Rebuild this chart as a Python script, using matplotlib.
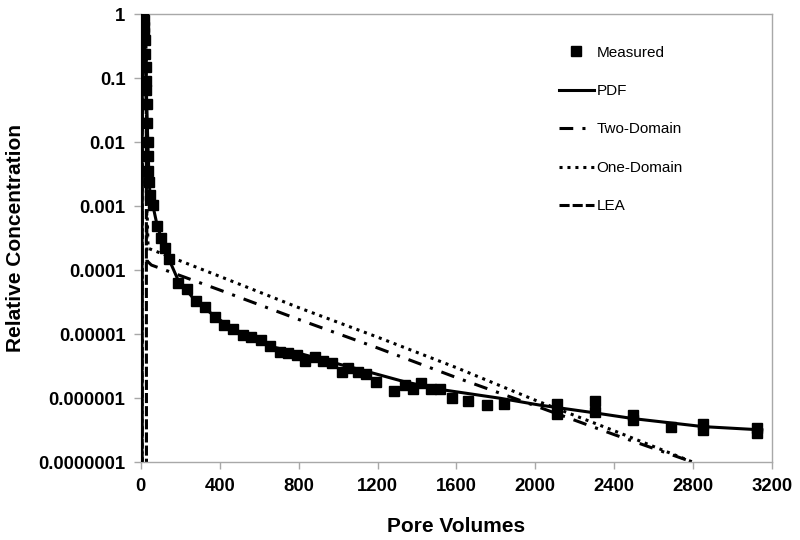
import matplotlib
matplotlib.use("Agg")
import matplotlib.pyplot as plt
from matplotlib.ticker import FixedLocator, FixedFormatter

plt.rcParams['font.family'] = ['Liberation Sans', 'DejaVu Sans']

# measured breakthrough data (pore volumes, relative concentration)
meas_pv = [3, 4, 5, 6, 7, 8, 10, 12, 14, 16, 18, 20, 22, 24, 26, 28, 30, 32, 34, 36,
           38, 40, 46, 62, 80, 103, 122, 141, 188, 235, 282, 325, 375, 421, 465, 519,
           561, 608, 654, 705, 747, 790, 832, 882, 925, 967, 1018, 1051, 1102, 1144,
           1192, 1285, 1339, 1381, 1423, 1469, 1516, 1579, 1660, 1753, 1841, 2108, 2108,
           2302, 2302, 2497, 2497, 2686, 2851, 2851, 3122, 3122]
meas_c = [0.04, 0.24, 0.45, 0.65, 0.85, 1.0, 1.0, 0.95, 0.8, 0.63, 0.5, 0.39, 0.24, 0.15,
          0.09, 0.065, 0.04, 0.02, 0.01, 0.006, 0.0035, 0.0024, 0.0015, 0.00104, 0.00049,
          0.00032, 0.00022, 0.000152, 6.4e-5, 5.0e-5, 3.35e-5, 2.7e-5, 1.85e-5, 1.4e-5,
          1.2e-5, 9.6e-6, 9.0e-6, 8.1e-6, 6.6e-6, 5.3e-6, 5.0e-6, 4.7e-6, 3.8e-6, 4.4e-6,
          3.8e-6, 3.5e-6, 2.6e-6, 3.0e-6, 2.6e-6, 2.4e-6, 1.8e-6, 1.3e-6, 1.6e-6, 1.4e-6,
          1.7e-6, 1.4e-6, 1.4e-6, 1.0e-6, 9.2e-7, 7.8e-7, 8.2e-7, 8.2e-7, 5.7e-7, 8.9e-7,
          6.2e-7, 5.4e-7, 4.6e-7, 3.5e-7, 3.9e-7, 3.2e-7, 3.4e-7, 2.9e-7]

# model fits
pdf_pv = [5, 6, 7, 8, 10, 12, 14, 17, 20, 24, 28, 32, 36, 40, 46, 62, 80, 100, 138, 189,
          274, 375, 468, 671, 806, 975, 1150, 1339, 1533, 1820, 2023, 2302, 2497, 2851, 3148]
pdf_c = [1e-9, 1e-6, 0.1, 0.7, 1.0, 0.95, 0.8, 0.55, 0.35, 0.17, 0.07, 0.025, 0.009, 0.004,
         0.0016, 0.001, 5.5e-4, 3.4e-4, 1.6e-4, 7e-5, 3.4e-5, 1.9e-5, 1.2e-5, 6.3e-6, 5.0e-6,
         3.6e-6, 2.6e-6, 1.8e-6, 1.35e-6, 1.0e-6, 7.8e-7, 5.9e-7, 4.8e-7, 3.6e-7, 3.2e-7]

two_pv = [6, 7, 9, 12, 15, 18, 22, 26, 29, 31, 54, 400, 800, 1200, 1600, 2000, 2400, 2800]
two_c = [1e-9, 0.05, 0.6, 0.97, 1.0, 0.95, 0.7, 0.3, 0.01, 1.4e-4, 1.2e-4, 4.9e-5, 1.7e-5,
         6.1e-6, 2.1e-6, 7.6e-7, 2.7e-7, 1e-7]

one_pv = [6, 7, 9, 12, 15, 18, 22, 26, 29, 32, 37, 400, 800, 1200, 1600, 2000, 2400, 2800]
one_c = [1e-9, 0.05, 0.6, 0.97, 1.0, 0.95, 0.7, 0.3, 0.02, 8e-4, 2.2e-4, 8e-5, 2.6e-5,
         9e-6, 3e-6, 9.3e-7, 3.1e-7, 1e-7]

lea_pv = [6, 7, 9, 12, 15, 18, 22, 26, 28, 29]
lea_c = [1e-9, 0.05, 0.6, 0.98, 1.0, 0.98, 0.9, 0.5, 0.01, 1e-9]

x_ticks = [0, 400, 800, 1200, 1600, 2000, 2400, 2800, 3200]
y_ticks = [1e-7, 1e-6, 1e-5, 1e-4, 1e-3, 1e-2, 1e-1, 1]
y_labels = ['0.0000001', '0.000001', '0.00001', '0.0001', '0.001', '0.01', '0.1', '1']

fig = plt.figure(figsize=(8, 5.4), dpi=100)
ax = fig.add_axes([0.176, 0.144, 0.789, 0.830])

lw = 2.2
ax.plot(meas_pv, meas_c, linestyle='none', marker='s', markersize=7.2, color='black',
        label='Measured', zorder=4)
ax.plot(pdf_pv, pdf_c, color='black', lw=lw, label='PDF', zorder=3)
ax.plot(two_pv, two_c, color='black', lw=lw, linestyle=(0, (4.5, 3, 1, 3)),
        dash_capstyle='butt', label='Two-Domain')
ax.plot(one_pv, one_c, color='black', lw=lw, linestyle=(0, (1, 1.6)), label='One-Domain')
ax.plot(lea_pv, lea_c, color='black', lw=lw, linestyle=(0, (3.3, 1)), label='LEA')

ax.set_yscale('log')
ax.set_xlim(0, 3200)
ax.set_ylim(1e-7, 1)
ax.xaxis.set_major_locator(FixedLocator(x_ticks))
ax.yaxis.set_major_locator(FixedLocator(y_ticks))
ax.yaxis.set_major_formatter(FixedFormatter(y_labels))
ax.yaxis.set_minor_locator(FixedLocator([]))

for sp in ax.spines.values():
    sp.set_color('#a8a8a8')
    sp.set_linewidth(1.0)

ax.tick_params(axis='both', direction='out', length=5, width=1, color='#a8a8a8',
               labelsize=13.3, pad=6)
for lab in ax.get_xticklabels() + ax.get_yticklabels():
    lab.set_fontweight('bold')

ax.set_xlabel('Pore Volumes', fontsize=15, fontweight='bold', labelpad=16)
ax.set_ylabel('Relative Concentration', fontsize=15, fontweight='bold', labelpad=10)

ax.legend(loc='upper left', bbox_to_anchor=(0.681, 0.941), bbox_transform=fig.transFigure,
          frameon=False, fontsize=11, numpoints=1, handlelength=2.3, handletextpad=0.2,
          labelspacing=1.6)

fig.savefig('out.png', dpi=100)
